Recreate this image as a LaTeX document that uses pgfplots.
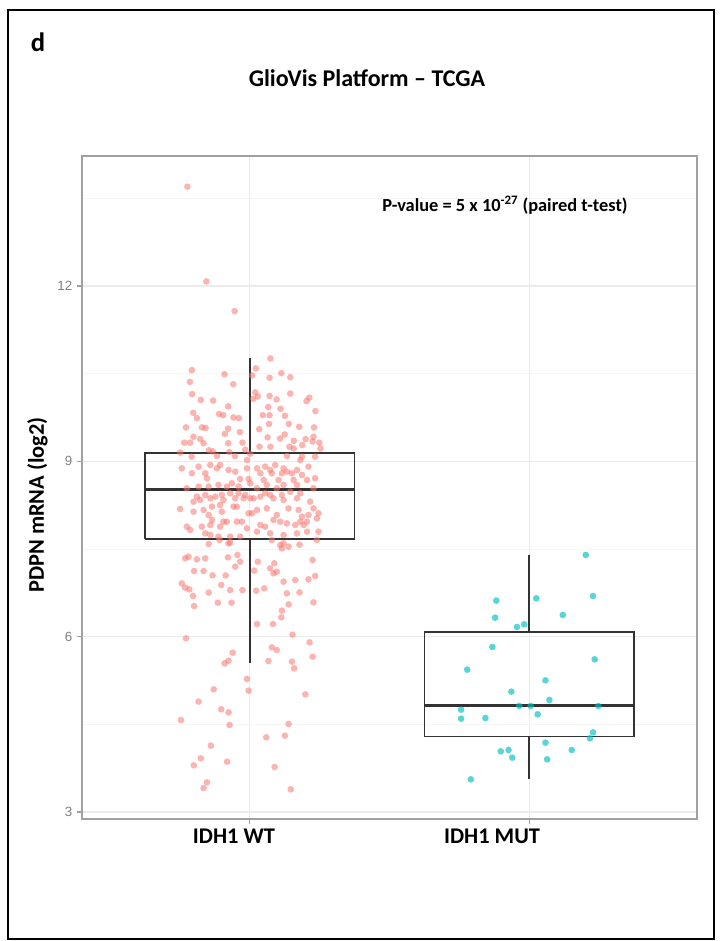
\documentclass[border=0pt]{standalone}
\usepackage{pgfplots}
\pgfplotsset{compat=1.18}
\usepackage{fontspec}
\setmainfont{Carlito}
\newfontfamily\tickfont{Liberation Sans}
\definecolor{wt}{HTML}{F8766D}
\definecolor{mut}{HTML}{00BFC4}
\definecolor{boxc}{HTML}{333333}
\definecolor{panelc}{HTML}{A0A0A0}
\definecolor{gridmaj}{HTML}{EBEBEB}
\definecolor{gridmin}{HTML}{F5F5F5}

\pgfplotstableread{
x y
0.777 13.70
0.845 12.08
0.946 11.57
1.074 10.76
0.793 10.56
0.786 10.36
0.910 10.49
0.941 10.32
1.022 10.59
1.008 10.47
1.071 10.43
1.113 10.51
1.145 10.44
0.794 10.15
1.020 10.18
1.029 10.11
1.013 10.07
1.071 10.12
1.096 10.06
1.145 10.16
1.203 10.03
1.213 10.09
0.825 10.05
0.869 10.04
0.923 9.94
0.798 9.83
0.811 9.74
0.890 9.81
0.905 9.79
0.942 9.75
0.961 9.74
1.066 9.93
1.110 9.90
1.126 9.78
1.235 9.86
1.047 9.79
1.071 9.79
1.069 9.64
1.140 9.64
1.177 9.59
0.772 9.58
0.829 9.58
0.842 9.57
0.923 9.56
1.034 9.55
1.230 9.58
0.965 9.50
0.911 9.47
1.125 9.46
0.799 9.42
0.823 9.38
1.064 9.41
1.109 9.39
1.200 9.38
1.228 9.42
0.766 9.32
0.787 9.32
0.923 9.31
0.974 9.32
1.158 9.35
1.225 9.34
1.249 9.32
0.835 9.31
0.751 9.15
0.854 9.19
0.868 9.17
0.927 9.16
0.984 9.20
1.035 9.25
1.074 9.25
1.142 9.25
1.157 9.22
1.188 9.28
1.253 9.22
0.792 9.08
0.883 9.09
0.947 9.09
1.002 9.13
1.133 9.09
1.187 9.08
1.234 9.08
0.990 9.023
1.181 9.023
0.757 8.881
0.817 8.909
0.859 8.938
0.883 8.881
0.894 8.938
0.924 8.852
0.990 8.881
1.026 8.881
1.055 8.909
1.073 8.852
1.091 8.938
1.121 8.881
1.133 8.824
1.169 8.852
1.210 8.909
0.793 8.795
0.841 8.795
0.948 8.824
1.038 8.795
1.079 8.795
1.115 8.795
1.151 8.795
1.187 8.767
1.234 8.710
0.847 8.710
0.966 8.698
0.996 8.698
1.050 8.681
1.103 8.681
1.157 8.681
1.205 8.681
0.936 8.624
0.817 8.567
0.853 8.567
0.888 8.596
0.918 8.567
0.960 8.567
1.002 8.624
1.061 8.596
1.121 8.596
1.169 8.596
1.228 8.539
0.775 8.539
1.026 8.539
1.097 8.539
0.811 8.396
0.841 8.424
0.877 8.396
0.900 8.424
0.930 8.453
0.960 8.453
0.984 8.424
1.002 8.367
1.038 8.396
1.055 8.453
1.073 8.424
1.115 8.424
1.145 8.481
1.181 8.453
0.799 8.310
0.823 8.339
0.859 8.367
0.906 8.339
0.948 8.367
0.978 8.367
1.014 8.367
1.085 8.367
1.121 8.339
1.169 8.367
1.216 8.310
0.751 8.185
0.799 8.139
0.835 8.168
0.865 8.225
0.894 8.253
0.942 8.225
0.954 8.225
0.996 8.111
1.026 8.168
1.061 8.196
1.097 8.082
1.139 8.196
1.175 8.168
1.228 8.196
0.853 8.082
0.900 8.139
1.008 8.111
1.187 8.054
1.210 8.082
1.246 8.111
0.775 7.882
0.865 7.997
0.906 7.968
0.918 7.968
0.954 7.968
0.972 7.968
1.038 7.911
1.085 7.997
1.109 7.968
1.133 7.939
1.181 7.968
1.205 7.968
1.240 8.025
0.787 7.825
0.829 7.882
0.859 7.911
0.894 7.882
0.990 7.854
1.055 7.882
1.163 7.911
1.193 7.911
0.841 7.768
0.859 7.740
0.888 7.711
0.930 7.711
0.966 7.711
1.026 7.797
1.073 7.768
1.121 7.740
1.169 7.768
1.205 7.797
1.246 7.797
0.853 7.586
0.892 7.654
0.924 7.597
0.930 7.608
1.079 7.654
1.109 7.568
1.121 7.597
1.139 7.540
1.115 7.511
1.178 7.574
1.240 7.654
0.769 7.340
0.781 7.369
0.811 7.323
0.841 7.340
0.922 7.357
0.956 7.397
0.966 7.283
0.948 7.198
1.029 7.283
1.088 7.255
1.073 7.169
1.085 7.084
1.097 7.112
1.225 7.312
0.801 7.123
0.835 7.123
0.867 7.049
0.914 7.049
1.016 7.129
1.121 6.941
1.163 6.969
1.210 6.981
1.234 7.038
0.757 6.912
0.769 6.838
0.784 6.810
0.797 6.696
0.853 6.753
0.898 6.884
0.930 6.798
0.974 6.798
1.023 6.787
1.052 6.827
1.133 6.741
1.178 6.758
1.228 6.587
0.801 6.524
0.886 6.581
0.935 6.581
1.139 6.553
1.115 6.445
1.113 6.330
1.026 6.216
1.083 6.216
1.153 6.034
0.772 5.971
1.214 5.903
1.079 5.817
1.097 5.771
1.225 5.657
0.939 5.726
0.924 5.589
0.910 5.543
1.067 5.583
1.151 5.572
1.159 5.458
0.990 5.276
0.996 5.076
0.871 5.099
1.199 5.013
0.817 4.888
0.898 4.757
0.924 4.705
0.754 4.574
0.928 4.489
1.139 4.506
1.059 4.277
1.126 4.306
0.861 4.135
0.825 3.918
0.800 3.798
0.919 3.861
1.089 3.770
0.847 3.507
0.835 3.410
1.147 3.388
}\wtdata

\pgfplotstableread{
x y
2.202 7.398
2.228 6.696
1.882 6.617
2.025 6.656
1.878 6.326
2.120 6.371
1.956 6.166
1.982 6.211
1.868 5.824
2.234 5.612
1.778 5.436
2.058 5.253
1.936 5.059
2.072 4.917
1.964 4.814
2.005 4.814
2.247 4.814
1.756 4.751
2.030 4.671
1.756 4.597
1.843 4.608
2.228 4.363
2.217 4.261
2.058 4.186
1.898 4.038
1.926 4.061
2.152 4.061
1.939 3.930
2.064 3.901
1.791 3.559
}\mutdata

\begin{document}
\begin{tikzpicture}[x=0.75pt,y=0.75pt]
\path[use as bounding box] (0,0) rectangle (722,941);
\draw[line width=2.2pt] (8,2) rectangle (714,931);
\node[font=\bfseries\fontsize{20}{24}\selectfont] at (38,899) {d};
\node[font=\bfseries\fontsize{18}{22}\selectfont] at (367,863) {GlioVis Platform – TCGA};
\begin{axis}[
  at={(61.5pt,91.5pt)}, anchor=south west,
  scale only axis, width=461.25pt, height=497.25pt,
  xmin=0.4, xmax=2.6, ymin=2.88, ymax=14.225,
  axis line style={panelc, line width=0.9pt},
  xtick={1,2}, xticklabels={,},
  ytick={3,6,9,12}, minor ytick={4.5,7.5,10.5,13.5},
  yticklabel style={font=\tickfont\fontsize{10}{12}\selectfont, text=gray},
  /pgf/number format/assume math mode=true,
  tick pos=left,
  tick align=outside, major tick length=3.8pt,
  tick style={panelc, line width=0.8pt},
  minor tick length=0pt,
  xmajorgrids, ymajorgrids, yminorgrids,
  major grid style={gridmaj, line width=0.8pt},
  minor grid style={gridmin, line width=0.6pt},
  clip=false,
]
% IDH1 WT box
\addplot[boxc, line width=1.2pt] coordinates {(0.625,7.67) (1.375,7.67) (1.375,9.145) (0.625,9.145) (0.625,7.67)};
\addplot[boxc, line width=1.2pt] coordinates {(1,9.145) (1,10.76)};
\addplot[boxc, line width=1.2pt] coordinates {(1,7.67) (1,5.55)};
\addplot[boxc, line width=2.4pt] coordinates {(0.625,8.52) (1.375,8.52)};
% IDH1 MUT box
\addplot[boxc, line width=1.2pt] coordinates {(1.625,4.29) (2.375,4.29) (2.375,6.075) (1.625,6.075) (1.625,4.29)};
\addplot[boxc, line width=1.2pt] coordinates {(2,6.075) (2,7.40)};
\addplot[boxc, line width=1.2pt] coordinates {(2,4.29) (2,3.56)};
\addplot[boxc, line width=2.4pt] coordinates {(1.625,4.82) (2.375,4.82)};
% jittered points
\addplot[only marks, mark=*, mark size=2.5pt, color=wt,
  mark options={draw opacity=0, fill=wt, fill opacity=0.55}] table[x=x,y=y] {\wtdata};
\addplot[only marks, mark=*, mark size=2.5pt, color=mut,
  mark options={draw opacity=0, fill=mut, fill opacity=0.65}] table[x=x,y=y] {\mutdata};
\end{axis}
\node[font=\bfseries\fontsize{13.8}{16}\selectfont] at (505,736) {P-value = 5 x 10\textsuperscript{-27} (paired t-test)};
\node[font=\bfseries\fontsize{16.8}{20}\selectfont] at (234,105) {IDH1 WT};
\node[font=\bfseries\fontsize{16.8}{20}\selectfont] at (492,105) {IDH1 MUT};
\node[font=\bfseries\fontsize{16.8}{20}\selectfont, rotate=90] at (37.5,436) {PDPN mRNA (log2)};
\end{tikzpicture}
\end{document}
